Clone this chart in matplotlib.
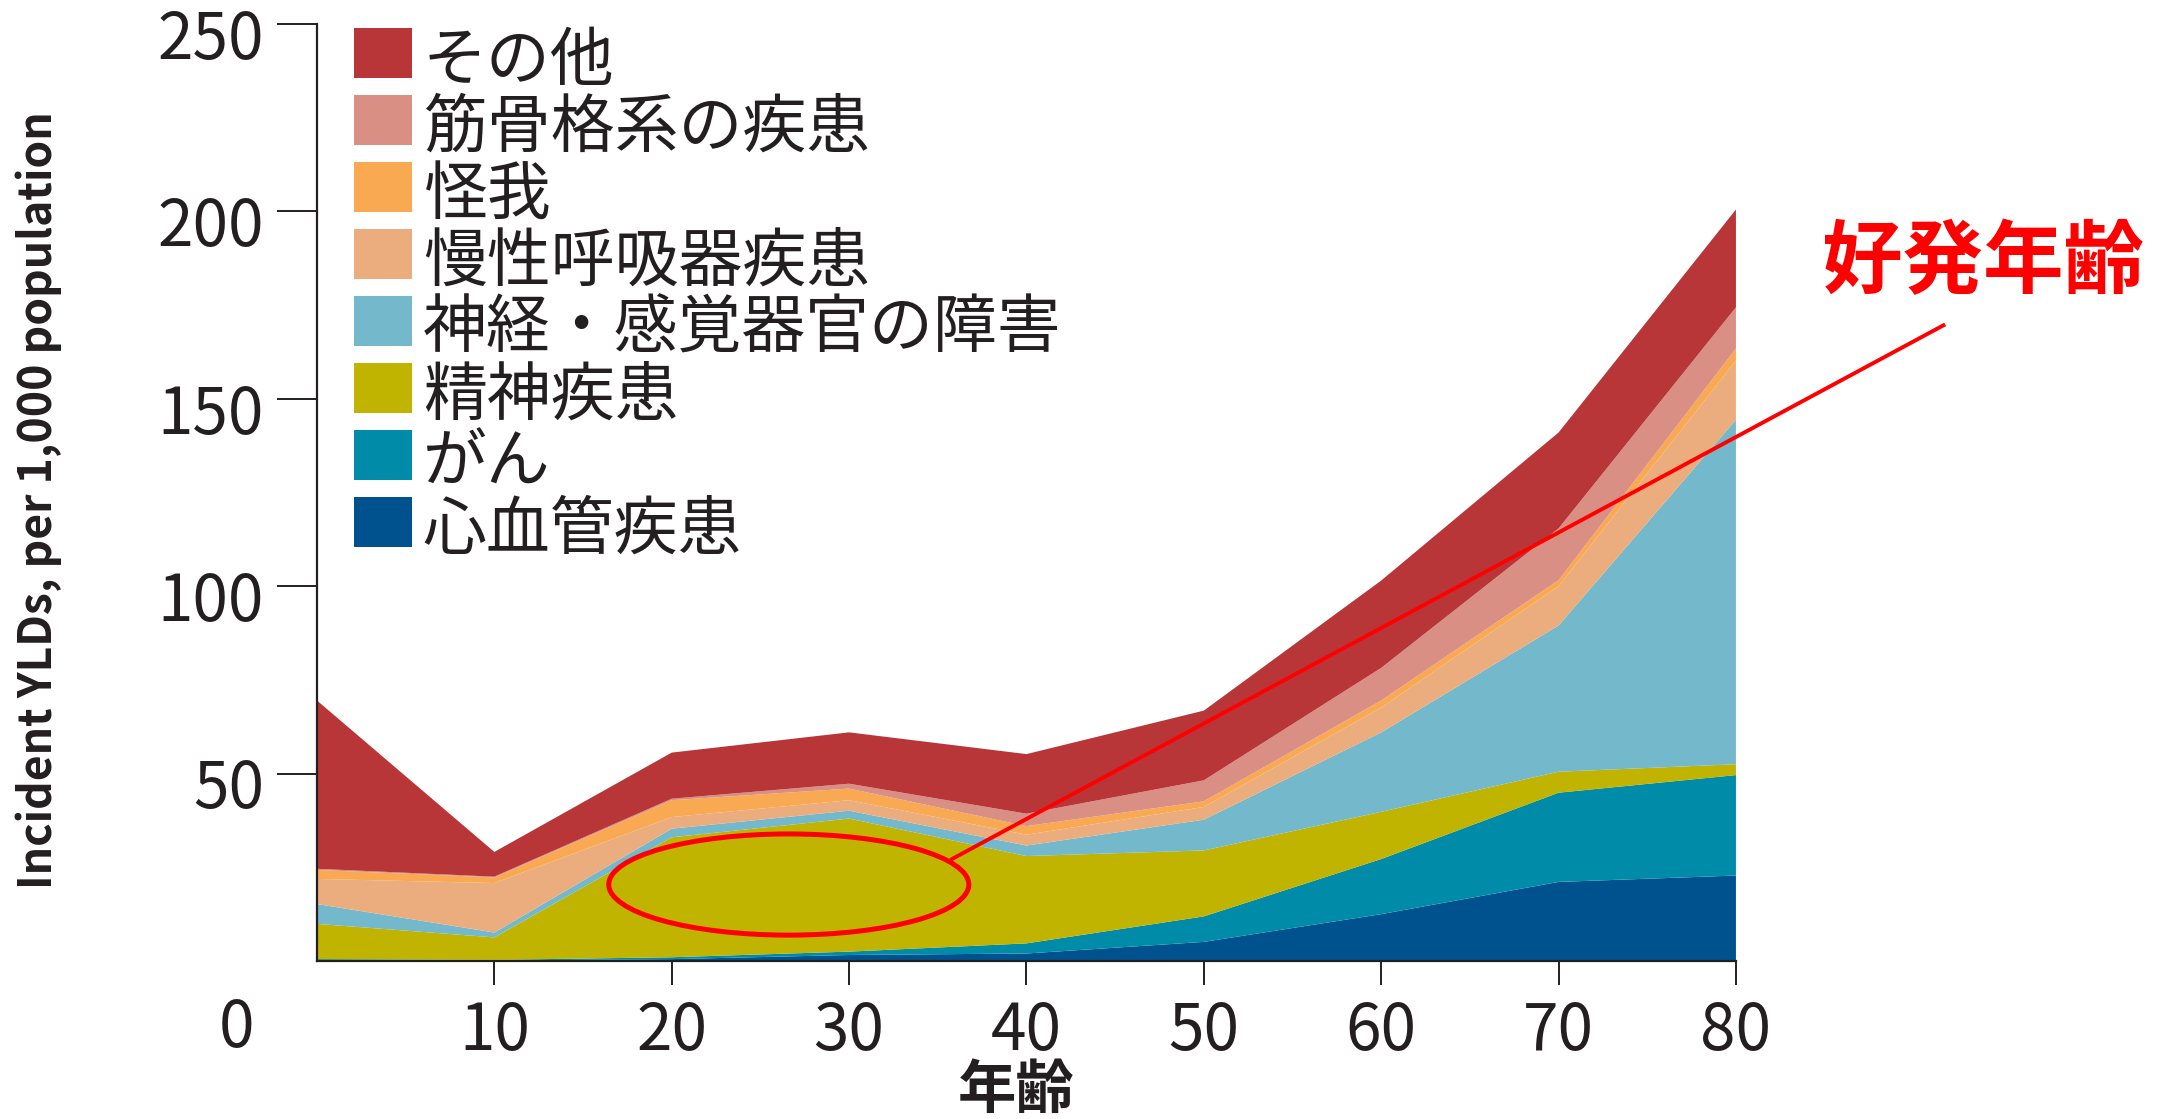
import numpy as np
import matplotlib
matplotlib.use('Agg')
import matplotlib.pyplot as plt
import matplotlib.transforms as mtransforms
from matplotlib.patches import Ellipse, Rectangle

plt.rcParams['font.family'] = ['Noto Sans CJK JP', 'DejaVu Sans']

ages = [0, 10, 20, 30, 40, 50, 60, 70, 80]
# layers from bottom to top
cardio = [0.2, 0.1, 0.5, 1.6, 2.0, 5.1, 12.5, 21.1, 22.8]
cancer = [0.3, 0.2, 0.5, 0.9, 2.7, 6.8, 14.7, 23.8, 26.8]
mental = [9.4, 6.0, 32.0, 35.5, 23.3, 17.6, 12.6, 5.6, 2.9]
neuro = [5.3, 1.3, 2.3, 2.1, 2.8, 8.2, 21.2, 39.0, 91.9]
resp = [6.7, 13.2, 3.1, 2.8, 2.9, 3.4, 6.6, 10.5, 15.8]
injury = [2.4, 1.5, 4.5, 3.1, 2.3, 1.5, 1.9, 1.6, 3.2]
msk = [0.3, 0.2, 0.4, 1.3, 3.3, 5.6, 8.7, 13.8, 11.0]
other = [44.9, 6.6, 12.3, 13.7, 15.9, 18.6, 23.3, 25.6, 26.1]

labels = ['心血管疾患', 'がん', '精神疾患', '神経・感覚器官の障害',
          '慢性呼吸器疾患', '怪我', '筋骨格系の疾患', 'その他']
colors = ['#00528E', '#008CA8', '#C0B400', '#74B9CB',
          '#ECAD7E', '#F9A952', '#D98F83', '#B83637']

xticks = [10, 20, 30, 40, 50, 60, 70, 80]
yticks = [50, 100, 150, 200, 250]

# highlighted region (ellipse) and callout
ell_center = (26.6, 20.4)
ell_size = (20.3, 27.0)
callout_x = [35.8, 91.7]
callout_y = [27.2, 169.6]

ink = '#231F20'

fig = plt.figure(figsize=(21.8, 11.19), dpi=100)
ax = fig.add_axes([0.1454, 0.1412, 0.6509, 0.8374])

ax.stackplot(ages, cardio, cancer, mental, neuro, resp, injury, msk, other,
             colors=colors, linewidth=0)

ax.set_xlim(0, 80)
ax.set_ylim(0, 250)
ax.spines['top'].set_visible(False)
ax.spines['right'].set_visible(False)
for s in ['left', 'bottom']:
    ax.spines[s].set_linewidth(1.6)
    ax.spines[s].set_color(ink)
ax.set_xticks(xticks)
ax.set_yticks(yticks)
ax.tick_params(axis='y', direction='out', length=29, width=1.4, colors=ink,
               labelsize=46, pad=9)
ax.tick_params(axis='x', direction='out', length=17, width=1.4, colors=ink,
               labelsize=46, pad=10)
off = mtransforms.ScaledTranslation(0, -0.09, fig.dpi_scale_trans)
for lab in ax.get_yticklabels():
    lab.set_transform(lab.get_transform() + off)

fig.text(0.1083, 0.0804, '0', fontsize=46, color=ink, ha='center', va='center')

fig.text(0.018, 0.553, 'Incident YLDs, per 1,000 population', rotation=90,
         fontsize=32, fontweight='bold', color=ink, ha='center', va='center')
fig.text(0.466, 0.025, '年齢', fontsize=42, fontweight='bold', color=ink,
         ha='center', va='center')

# legend drawn by hand (top entry = top layer)
row = 0.0715
for i, (name, col) in enumerate(zip(labels[::-1], colors[::-1])):
    ytop = 0.9962 - i * row
    ax.add_patch(Rectangle((0.026, ytop - 0.0534), 0.0409, 0.0534,
                           transform=ax.transAxes, facecolor=col,
                           edgecolor='none', clip_on=False))
    ax.text(0.0747, ytop - 0.0267 - 0.0096, name, transform=ax.transAxes,
            fontsize=46, color=ink, ha='left', va='center')

ax.add_patch(Ellipse(ell_center, ell_size[0], ell_size[1], fill=False,
                     edgecolor='#FF0000', linewidth=3.6, zorder=5))
ax.plot(callout_x, callout_y, color='#FF0000', linewidth=2.8, clip_on=False,
        zorder=5)
fig.text(0.9096, 0.764, '好発年齢', fontsize=58, fontweight='bold',
         color='#FF0000', ha='center', va='center')

fig.savefig('out.png', dpi=100)
